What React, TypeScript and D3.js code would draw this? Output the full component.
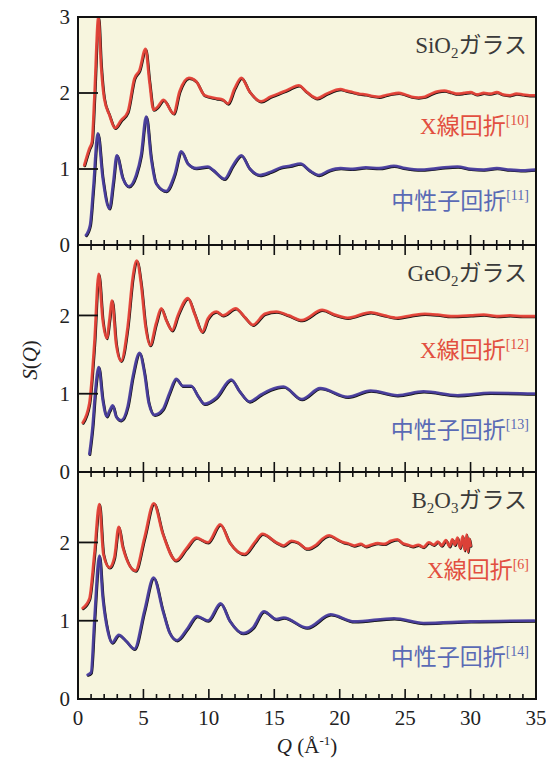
import React from 'react';
import * as d3 from 'd3';

// x ticks and labels
const X_TICKS = d3.range(0, 36, 1);
const X_LABELS = [0, 5, 10, 15, 20, 25, 30, 35];

// SiO2 glass, [Q, S(Q)]
const sio2Xray: [number, number][] = [
  [0.48, 1.05], [0.87, 1.27], [1.07, 1.36], [1.25, 1.93], [1.56, 3.0], [1.76, 2.37], [2.0, 1.93],
  [2.4, 1.71], [2.83, 1.54], [3.29, 1.64], [3.8, 1.75], [4.31, 2.19], [4.7, 2.3], [5.16, 2.58],
  [5.46, 2.15], [5.77, 1.78], [6.1, 1.82], [6.53, 1.91], [7.3, 1.73], [7.76, 2.02], [8.47, 2.2],
  [9.04, 2.15], [9.67, 1.97], [10.57, 1.93], [11.08, 1.91], [11.46, 1.86], [11.97, 2.06],
  [12.48, 2.2], [13.1, 2.02], [14.0, 1.89], [14.7, 1.95], [15.3, 1.99], [16.0, 2.04], [16.87, 2.1],
  [17.5, 2.01], [18.27, 1.93], [19.0, 1.99], [20.06, 2.05], [20.5, 2.03], [21.0, 2.01], [21.5, 1.99],
  [22.0, 1.98], [22.5, 1.96], [23.0, 1.95], [23.5, 1.97], [24.0, 1.99], [24.5, 2.0], [25.0, 1.98],
  [25.5, 1.95], [26.0, 1.94], [26.5, 1.95], [27.0, 1.99], [27.5, 2.02], [28.0, 2.03], [28.5, 2.01],
  [29.0, 1.99], [29.5, 2.0], [30.0, 2.01], [30.5, 1.98], [31.0, 2.0], [31.5, 1.99], [32.0, 2.01],
  [32.5, 1.98], [33.0, 1.97], [33.5, 1.99], [34.0, 1.98], [34.5, 1.97], [35.0, 1.97],
];
const sio2Neutron: [number, number][] = [
  [0.61, 0.13], [0.92, 0.26], [1.17, 0.75], [1.51, 1.47], [1.89, 0.88], [2.4, 0.48], [2.7, 0.83],
  [2.96, 1.18], [3.42, 0.88], [3.88, 0.77], [4.44, 0.92], [4.82, 1.18], [5.21, 1.69], [5.59, 1.14],
  [5.97, 0.81], [6.74, 0.71], [7.37, 0.92], [7.89, 1.23], [8.4, 1.07], [9.04, 1.01], [9.93, 1.03],
  [10.3, 0.99], [11.2, 0.87], [11.85, 1.05], [12.48, 1.18], [13.1, 1.01], [13.88, 0.92],
  [14.7, 0.96], [15.5, 1.02], [16.2, 1.04], [17.0, 1.07], [17.7, 0.98], [18.4, 0.92], [19.2, 0.98],
  [20.06, 1.01], [21.0, 1.0], [22.0, 1.02], [23.0, 1.01], [24.14, 1.04], [25.0, 1.01], [26.2, 0.99],
  [27.0, 1.0], [28.0, 1.02], [29.0, 1.03], [30.0, 1.0], [31.0, 0.99], [32.0, 1.01], [33.0, 0.99],
  [34.0, 0.98], [34.9, 0.99],
];

// GeO2 glass
const geo2Xray: [number, number][] = [
  [0.36, 0.63], [0.87, 0.88], [1.25, 1.64], [1.58, 2.53], [1.89, 1.94], [2.2, 1.71], [2.4, 1.94],
  [2.6, 2.19], [2.91, 1.64], [3.29, 1.42], [3.8, 1.86], [4.19, 2.49], [4.49, 2.7], [4.82, 2.4],
  [5.16, 1.86], [5.51, 1.62], [5.97, 1.9], [6.36, 2.09], [6.74, 1.94], [7.2, 1.81], [7.63, 2.0],
  [8.4, 2.22], [8.91, 2.02], [9.5, 1.79], [9.93, 1.96], [10.57, 2.05], [11.08, 2.0], [12.05, 2.09],
  [12.73, 1.98], [13.37, 1.88], [14.27, 2.02], [15.16, 2.05], [16.1, 2.0], [17.1, 1.94],
  [18.66, 2.07], [19.6, 2.01], [20.6, 1.97], [22.36, 2.04], [23.4, 2.0], [24.4, 1.97], [25.5, 2.0],
  [26.5, 2.02], [27.47, 2.01], [28.5, 1.99], [30.0, 2.0], [31.0, 2.01], [32.0, 1.99], [33.0, 2.0],
  [34.0, 1.99], [34.9, 1.99],
];
const geo2Neutron: [number, number][] = [
  [0.87, 0.23], [1.12, 0.59], [1.33, 1.05], [1.58, 1.34], [1.89, 0.92], [2.2, 0.71], [2.4, 0.78],
  [2.66, 0.85], [2.91, 0.71], [3.29, 0.66], [3.8, 0.84], [4.19, 1.22], [4.7, 1.52], [5.08, 1.26],
  [5.41, 0.88], [5.84, 0.73], [6.48, 0.8], [6.99, 1.01], [7.5, 1.19], [8.0, 1.1], [8.65, 1.1],
  [9.17, 0.97], [9.67, 0.87], [10.57, 0.95], [11.7, 1.18], [12.35, 1.03], [13.1, 0.9], [14.0, 0.99],
  [14.7, 1.05], [15.7, 1.09], [17.1, 0.93], [18.5, 1.07], [20.6, 0.96], [22.36, 1.04], [24.4, 0.98],
  [26.4, 1.03], [29.0, 0.98], [31.5, 1.01], [34.9, 1.0],
];

// B2O3 glass
const b2o3Xray: [number, number][] = [
  [0.36, 1.16], [0.87, 1.28], [1.25, 1.85], [1.63, 2.49], [1.94, 1.85], [2.4, 1.68], [2.78, 1.81],
  [3.11, 2.2], [3.42, 1.94], [4.39, 1.64], [5.08, 2.06], [5.79, 2.5], [6.48, 2.11], [7.5, 1.77],
  [8.27, 1.92], [9.04, 2.06], [9.93, 2.0], [10.87, 2.23], [11.59, 2.0], [12.73, 1.85], [13.5, 2.0],
  [14.09, 2.11], [15.16, 2.0], [15.7, 1.96], [16.3, 2.02], [16.8, 2.0], [17.5, 1.92], [18.2, 1.97],
  [18.7, 2.05], [19.2, 2.09], [19.8, 2.04], [20.3, 2.0], [20.6, 1.99], [21.1, 1.96], [21.6, 1.98],
  [22.0, 1.95], [22.4, 1.97], [22.9, 1.99], [23.4, 1.98], [23.9, 2.02], [24.4, 2.04], [24.8, 1.99],
  [25.2, 1.97], [25.6, 1.95], [26.0, 1.97], [26.4, 1.94], [26.8, 2.0], [27.2, 1.97], [27.5, 2.01],
  [27.8, 1.96], [28.1, 2.03], [28.4, 1.95], [28.6, 2.04], [28.8, 1.97], [29.0, 2.06], [29.2, 1.93],
  [29.4, 2.08], [29.55, 1.9], [29.7, 2.1], [29.8, 1.88], [29.9, 2.05], [30.0, 1.96],
];
const b2o3Neutron: [number, number][] = [
  [0.74, 0.31], [1.0, 0.34], [1.25, 1.0], [1.63, 1.83], [1.89, 1.3], [2.27, 0.87], [2.6, 0.72],
  [3.11, 0.82], [3.68, 0.74], [4.31, 0.64], [5.08, 1.13], [5.77, 1.55], [6.48, 1.13], [6.99, 0.85],
  [7.56, 0.75], [8.4, 0.91], [9.09, 1.06], [9.93, 1.0], [10.9, 1.22], [11.59, 1.0], [12.61, 0.84],
  [13.37, 0.91], [14.2, 1.12], [15.16, 1.02], [15.72, 1.04], [17.5, 0.91], [19.3, 1.08],
  [21.1, 0.99], [24.15, 1.03], [26.4, 0.97], [30.0, 0.99], [34.86, 1.0],
];

const PANEL_TITLES = [
  { base: 'SiO', sub: '2', base2: '', sub2: '' },
  { base: 'GeO', sub: '2', base2: '', sub2: '' },
  { base: 'B', sub: '2', base2: 'O', sub2: '3' },
];
const XRAY_REFS = ['[10]', '[12]', '[6]'];
const NEUTRON_REFS = ['[11]', '[13]', '[14]'];
const Y_MAX = [3, 2.9, 2.9];
const Y_LABELS = [[0, 1, 2, 3], [0, 1, 2], [0, 1, 2]];

const RED = '#e8453a';
const BLUE = '#4b3fa0';
const SERIF = '"Liberation Serif", "DejaVu Serif", serif';
const CJK = '"Noto Sans CJK JP", "Noto Sans", sans-serif';

const W = 546, H = 772;
const LEFT = 78, RIGHT = 536;
const PANEL_TOP = [17, 245, 472];
const PANEL_BOTTOM = [245, 472, 699];

export default function App() {
  const x = d3.scaleLinear().domain([0, 35]).range([LEFT, RIGHT]);
  const panels = [
    { xr: sio2Xray, ne: sio2Neutron },
    { xr: geo2Xray, ne: geo2Neutron },
    { xr: b2o3Xray, ne: b2o3Neutron },
  ];

  return (
    <svg width={W} height={H} style={{ position: 'absolute', left: 0, top: 0, background: '#fff' }}>
      {panels.map((p, i) => {
        const y = d3.scaleLinear().domain([0, Y_MAX[i]]).range([PANEL_BOTTOM[i], PANEL_TOP[i]]);
        const line = d3.line<[number, number]>().x(d => x(d[0])).y(d => y(d[1])).curve(d3.curveMonotoneX);
        const top = PANEL_TOP[i], bot = PANEL_BOTTOM[i];
        const t = PANEL_TITLES[i];
        const clipId = `clip${i}`;
        return (
          <g key={i}>
            <rect x={LEFT} y={top} width={RIGHT - LEFT} height={bot - top} fill="#f7f5de" />
            <clipPath id={clipId}><rect x={LEFT} y={top} width={RIGHT - LEFT} height={bot - top} /></clipPath>
            <g clipPath={`url(#${clipId})`} fill="none" strokeLinejoin="round" strokeLinecap="round">
              <path d={line(p.xr) || ''} stroke="#111" strokeWidth={2.6} transform="translate(0.6,0.8)" />
              <path d={line(p.ne) || ''} stroke="#111" strokeWidth={2.6} transform="translate(0.6,0.8)" />
              <path d={line(p.xr) || ''} stroke={RED} strokeWidth={2.8} opacity={0.95} />
              <path d={line(p.ne) || ''} stroke={BLUE} strokeWidth={2.8} opacity={0.95} />
            </g>
            {/* x ticks, bottom pointing up */}
            {X_TICKS.map(v => (
              <line key={'b' + v} x1={x(v)} x2={x(v)} y1={bot} y2={bot - (v % 5 === 0 ? 10 : 5)} stroke="#111" strokeWidth={1.6} />
            ))}
            {i > 0 && X_TICKS.map(v => (
              <line key={'t' + v} x1={x(v)} x2={x(v)} y1={top} y2={top + (v % 5 === 0 ? 10 : 5)} stroke="#111" strokeWidth={1.6} />
            ))}
            {/* y ticks */}
            {y.ticks(3).filter(v => v > 0 && v < Y_MAX[i] - 0.5).map(v => (
              <line key={'y' + v} x1={LEFT} x2={LEFT + 20} y1={y(v)} y2={y(v)} stroke="#111" strokeWidth={1.8} />
            ))}
            {Y_LABELS[i].map(v => (
              <text key={'yl' + v} x={LEFT - 8} y={y(v)} dy="0.35em" textAnchor="end" fontFamily={SERIF} fontSize={21} fill="#222">{v}</text>
            ))}
            <rect x={LEFT} y={top} width={RIGHT - LEFT} height={bot - top} fill="none" stroke="#111" strokeWidth={2} />
            {/* title */}
            <text x={527} y={top + 36} textAnchor="end" fontSize={23} fill="#3a3a3a">
              <tspan fontFamily={SERIF}>{t.base}</tspan>
              <tspan fontFamily={SERIF} fontSize={15} dy={5}>{t.sub}</tspan>
              {t.base2 && <tspan fontFamily={SERIF} dy={-5}>{t.base2}</tspan>}
              {t.sub2 && <tspan fontFamily={SERIF} fontSize={15} dy={5}>{t.sub2}</tspan>}
              <tspan fontFamily={CJK} dy={-5}>ガラス</tspan>
            </text>
            <text x={529} y={i === 2 ? top + 106 : top + (i === 0 ? 117 : 113)} textAnchor="end" fontSize={23} fill="#e24f40">
              <tspan fontFamily={SERIF}>X</tspan>
              <tspan fontFamily={CJK}>線回折</tspan>
              <tspan fontFamily={SERIF} fontSize={14} dy={-9}>{XRAY_REFS[i]}</tspan>
            </text>
            <text x={529} y={top + (i === 0 ? 192 : 193)} textAnchor="end" fontSize={23} fill="#5a6ab5">
              <tspan fontFamily={CJK}>中性子回折</tspan>
              <tspan fontFamily={SERIF} fontSize={14} dy={-9}>{NEUTRON_REFS[i]}</tspan>
            </text>
          </g>
        );
      })}
      {X_LABELS.map(v => (
        <text key={v} x={x(v)} y={725} textAnchor="middle" fontFamily={SERIF} fontSize={21} fill="#222">{v}</text>
      ))}
      <text x={x(17.5)} y={753} textAnchor="middle" fontFamily={SERIF} fontSize={21} fill="#222">
        <tspan fontStyle="italic">Q</tspan>
        <tspan> (Å</tspan>
        <tspan fontSize={13} dy={-8}>-1</tspan>
        <tspan dy={8}>)</tspan>
      </text>
      <text transform={`translate(37,360) rotate(-90)`} textAnchor="middle" fontFamily={SERIF} fontSize={21} fill="#222">
        <tspan fontStyle="italic">S</tspan>(<tspan fontStyle="italic">Q</tspan>)
      </text>
    </svg>
  );
}
